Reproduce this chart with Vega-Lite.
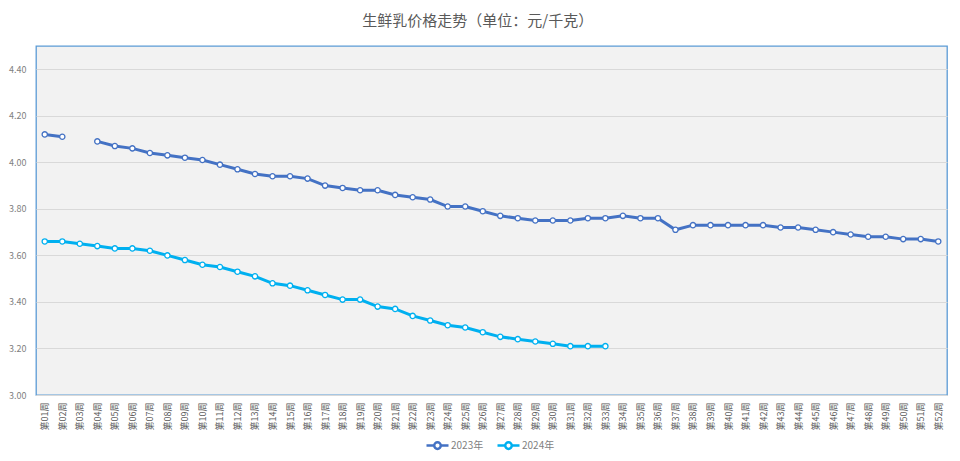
{
  "$schema": "https://vega.github.io/schema/vega-lite/v6.json",
  "width": 911,
  "height": 349,
  "autosize": {"type": "none"},
  "padding": {"left": 36, "top": 46, "right": 13, "bottom": 66},
  "background": "white",
  "title": {"text": "生鲜乳价格走势（单位：元/千克）", "fontSize": 15, "font": "Noto Sans CJK SC", "fontWeight": "normal", "color": "#595959", "offset": 17, "anchor": "middle", "frame": "bounds"},
  "config": {
    "font": "Noto Sans CJK SC",
    "view": {"stroke": "#5B9BD5", "strokeWidth": 1.3, "fill": "#F2F2F2"}
  },
  "data": {"values": [
    {"week": "第01周", "year": "2023年", "price": 4.12},
    {"week": "第02周", "year": "2023年", "price": 4.11},
    {"week": "第03周", "year": "2023年", "price": null},
    {"week": "第04周", "year": "2023年", "price": 4.09},
    {"week": "第05周", "year": "2023年", "price": 4.07},
    {"week": "第06周", "year": "2023年", "price": 4.06},
    {"week": "第07周", "year": "2023年", "price": 4.04},
    {"week": "第08周", "year": "2023年", "price": 4.03},
    {"week": "第09周", "year": "2023年", "price": 4.02},
    {"week": "第10周", "year": "2023年", "price": 4.01},
    {"week": "第11周", "year": "2023年", "price": 3.99},
    {"week": "第12周", "year": "2023年", "price": 3.97},
    {"week": "第13周", "year": "2023年", "price": 3.95},
    {"week": "第14周", "year": "2023年", "price": 3.94},
    {"week": "第15周", "year": "2023年", "price": 3.94},
    {"week": "第16周", "year": "2023年", "price": 3.93},
    {"week": "第17周", "year": "2023年", "price": 3.90},
    {"week": "第18周", "year": "2023年", "price": 3.89},
    {"week": "第19周", "year": "2023年", "price": 3.88},
    {"week": "第20周", "year": "2023年", "price": 3.88},
    {"week": "第21周", "year": "2023年", "price": 3.86},
    {"week": "第22周", "year": "2023年", "price": 3.85},
    {"week": "第23周", "year": "2023年", "price": 3.84},
    {"week": "第24周", "year": "2023年", "price": 3.81},
    {"week": "第25周", "year": "2023年", "price": 3.81},
    {"week": "第26周", "year": "2023年", "price": 3.79},
    {"week": "第27周", "year": "2023年", "price": 3.77},
    {"week": "第28周", "year": "2023年", "price": 3.76},
    {"week": "第29周", "year": "2023年", "price": 3.75},
    {"week": "第30周", "year": "2023年", "price": 3.75},
    {"week": "第31周", "year": "2023年", "price": 3.75},
    {"week": "第32周", "year": "2023年", "price": 3.76},
    {"week": "第33周", "year": "2023年", "price": 3.76},
    {"week": "第34周", "year": "2023年", "price": 3.77},
    {"week": "第35周", "year": "2023年", "price": 3.76},
    {"week": "第36周", "year": "2023年", "price": 3.76},
    {"week": "第37周", "year": "2023年", "price": 3.71},
    {"week": "第38周", "year": "2023年", "price": 3.73},
    {"week": "第39周", "year": "2023年", "price": 3.73},
    {"week": "第40周", "year": "2023年", "price": 3.73},
    {"week": "第41周", "year": "2023年", "price": 3.73},
    {"week": "第42周", "year": "2023年", "price": 3.73},
    {"week": "第43周", "year": "2023年", "price": 3.72},
    {"week": "第44周", "year": "2023年", "price": 3.72},
    {"week": "第45周", "year": "2023年", "price": 3.71},
    {"week": "第46周", "year": "2023年", "price": 3.70},
    {"week": "第47周", "year": "2023年", "price": 3.69},
    {"week": "第48周", "year": "2023年", "price": 3.68},
    {"week": "第49周", "year": "2023年", "price": 3.68},
    {"week": "第50周", "year": "2023年", "price": 3.67},
    {"week": "第51周", "year": "2023年", "price": 3.67},
    {"week": "第52周", "year": "2023年", "price": 3.66},
    {"week": "第01周", "year": "2024年", "price": 3.66},
    {"week": "第02周", "year": "2024年", "price": 3.66},
    {"week": "第03周", "year": "2024年", "price": 3.65},
    {"week": "第04周", "year": "2024年", "price": 3.64},
    {"week": "第05周", "year": "2024年", "price": 3.63},
    {"week": "第06周", "year": "2024年", "price": 3.63},
    {"week": "第07周", "year": "2024年", "price": 3.62},
    {"week": "第08周", "year": "2024年", "price": 3.60},
    {"week": "第09周", "year": "2024年", "price": 3.58},
    {"week": "第10周", "year": "2024年", "price": 3.56},
    {"week": "第11周", "year": "2024年", "price": 3.55},
    {"week": "第12周", "year": "2024年", "price": 3.53},
    {"week": "第13周", "year": "2024年", "price": 3.51},
    {"week": "第14周", "year": "2024年", "price": 3.48},
    {"week": "第15周", "year": "2024年", "price": 3.47},
    {"week": "第16周", "year": "2024年", "price": 3.45},
    {"week": "第17周", "year": "2024年", "price": 3.43},
    {"week": "第18周", "year": "2024年", "price": 3.41},
    {"week": "第19周", "year": "2024年", "price": 3.41},
    {"week": "第20周", "year": "2024年", "price": 3.38},
    {"week": "第21周", "year": "2024年", "price": 3.37},
    {"week": "第22周", "year": "2024年", "price": 3.34},
    {"week": "第23周", "year": "2024年", "price": 3.32},
    {"week": "第24周", "year": "2024年", "price": 3.30},
    {"week": "第25周", "year": "2024年", "price": 3.29},
    {"week": "第26周", "year": "2024年", "price": 3.27},
    {"week": "第27周", "year": "2024年", "price": 3.25},
    {"week": "第28周", "year": "2024年", "price": 3.24},
    {"week": "第29周", "year": "2024年", "price": 3.23},
    {"week": "第30周", "year": "2024年", "price": 3.22},
    {"week": "第31周", "year": "2024年", "price": 3.21},
    {"week": "第32周", "year": "2024年", "price": 3.21},
    {"week": "第33周", "year": "2024年", "price": 3.21}
  ]},
  "encoding": {
    "x": {
      "field": "week", "type": "ordinal", "title": null,
      "axis": {"labelAngle": -90, "labelFontSize": 9, "labelColor": "#595959", "labelPadding": 7, "ticks": false, "grid": false, "domainColor": "#D9D9D9"}
    },
    "y": {
      "field": "price", "type": "quantitative", "title": null,
      "scale": {"domain": [3, 4.5], "nice": false, "zero": false},
      "axis": {"values": [3, 3.2, 3.4, 3.6, 3.8, 4, 4.2, 4.4], "format": ".2f", "labelFontSize": 9, "labelColor": "#7F7F7F", "labelPadding": 10, "ticks": false, "domain": false, "gridColor": "#D9D9D9", "gridWidth": 1}
    },
    "color": {
      "field": "year", "type": "nominal",
      "scale": {"domain": ["2023年", "2024年"], "range": ["#4472C4", "#00B0F0"]},
      "legend": {
        "title": null, "orient": "none", "direction": "horizontal", "legendX": 389, "legendY": 387,
        "symbolType": "M-1,0H-0.3M0.3,0H1M-0.3,0A0.3,0.3 0 1,0 0.3,0A0.3,0.3 0 1,0 -0.3,0",
        "symbolSize": 484, "symbolStrokeWidth": 2.5, "symbolFillColor": "white",
        "labelFontSize": 10, "labelColor": "#7F7F7F", "labelOffset": 1, "columnPadding": 8
      }
    }
  },
  "layer": [
    {"mark": {"type": "line", "strokeWidth": 3, "invalid": "break-paths-filter-domains"}},
    {"mark": {"type": "point", "filled": false, "fill": "white", "size": 28, "strokeWidth": 1.3, "opacity": 1}}
  ]
}
